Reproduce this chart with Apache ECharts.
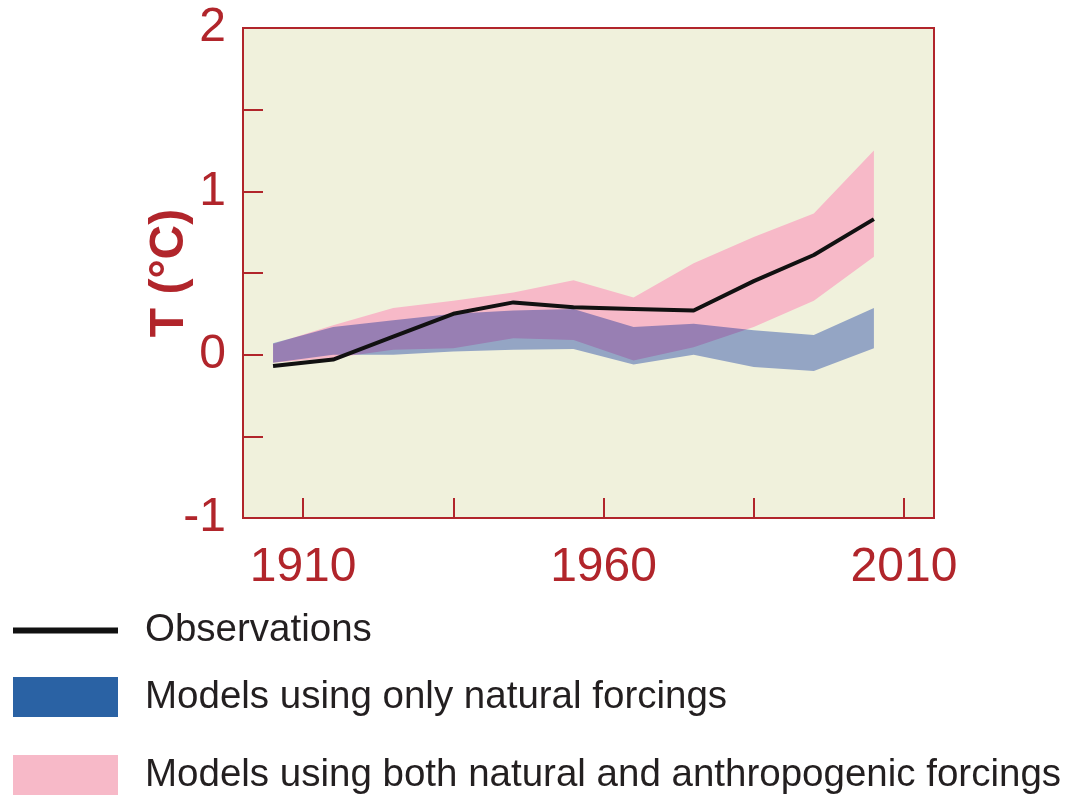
<!DOCTYPE html>
<html>
<head>
<meta charset="utf-8">
<script src="https://cdn.jsdelivr.net/npm/echarts@6/dist/echarts.min.js"></script>
<style>
html,body{margin:0;padding:0;background:#ffffff;}
#chart{width:1072px;height:798px;}
</style>
</head>
<body>
<div id="chart"></div>
<script>
// Decade centres (years)
const years = [1905, 1915, 1925, 1935, 1945, 1955, 1965, 1975, 1985, 1995, 2005];
// Observed temperature anomaly (°C)
const observations = [-0.07, -0.03, 0.11, 0.25, 0.32, 0.29, 0.28, 0.27, 0.45, 0.61, 0.83];
// Models using only natural forcings: band lower / upper
const naturalLow  = [-0.05, 0.0, 0.0, 0.02, 0.03, 0.035, -0.06, 0.0, -0.075, -0.10, 0.04];
const naturalHigh = [0.07, 0.17, 0.21, 0.25, 0.27, 0.28, 0.17, 0.19, 0.15, 0.12, 0.285];
// Models using both natural and anthropogenic forcings: band lower / upper
const bothLow  = [-0.05, -0.02, 0.03, 0.04, 0.10, 0.09, -0.035, 0.045, 0.17, 0.33, 0.60];
const bothHigh = [0.065, 0.18, 0.285, 0.33, 0.38, 0.455, 0.35, 0.56, 0.72, 0.865, 1.25];
// Tick values
const xTickValues = [1910, 1935, 1960, 1985, 2010];
const xLabelValues = [1910, 1960, 2010];
const yLabelValues = [-1, 0, 1, 2];

const RED = '#B1252B';
const FONT = '"Liberation Sans", Arial, Helvetica, sans-serif';
const NAME_OBS = 'Observations';
const NAME_NAT = 'Models using only natural forcings';
const NAME_BOTH = 'Models using both natural and anthropogenic forcings';

const chart = echarts.init(document.getElementById('chart'), null, {renderer: 'canvas', devicePixelRatio: 1});

function pairs(vals) { return years.map((y, i) => [y, vals[i]]); }
function bandData(lo, hi) { return years.map((y, i) => [y, lo[i], hi[i]]); }

// Draw a whole band (upper edge forward, lower edge back) as one polygon
function bandRenderer(fillColor, blend) {
  return function (params, api) {
    if (params.dataIndexInside !== 0) return null;
    const n = params.dataInsideLength;
    const upper = [], lower = [];
    for (let i = 0; i < n; i++) {
      const x = api.value(0, i);
      upper.push(api.coord([x, api.value(2, i)]));
      lower.push(api.coord([x, api.value(1, i)]));
    }
    const style = {fill: fillColor, stroke: null};
    if (blend) style.blend = blend;
    return {
      type: 'polygon',
      shape: {points: upper.concat(lower.reverse())},
      style: style,
      clipPath: {
        type: 'rect',
        shape: {x: params.coordSys.x, y: params.coordSys.y, width: params.coordSys.width, height: params.coordSys.height}
      }
    };
  };
}

const legendText = {fontSize: 38.5, color: '#231F20', fontFamily: FONT, padding: [4, 0, 0, 22]};
const legendText2 = {fontSize: 38.5, color: '#231F20', fontFamily: FONT, padding: [6, 0, 0, 22]};

const option = {
  backgroundColor: '#ffffff',
  animation: false,
  grid: {
    left: 243, top: 28, right: 138, bottom: 280,
    show: true, backgroundColor: '#F0F1DC', borderColor: RED, borderWidth: 2
  },
  xAxis: {
    type: 'value', min: 1900, max: 2015,
    axisLine: {onZero: false, lineStyle: {color: RED, width: 2}},
    axisTick: {inside: true, length: 20, lineStyle: {color: RED, width: 2}, customValues: xTickValues},
    axisLabel: {customValues: xLabelValues, color: RED, fontSize: 48, fontFamily: FONT, margin: 26,
      formatter: v => String(v)},
    splitLine: {show: false}
  },
  yAxis: {
    type: 'value', min: -1, max: 2, interval: 0.5,
    name: 'T (°C)', nameLocation: 'middle', nameRotate: 90, nameGap: 49, nameMoveOverlap: false,
    nameTextStyle: {color: RED, fontSize: 48, fontWeight: 'bold', fontFamily: FONT},
    axisLine: {onZero: false, lineStyle: {color: RED, width: 2}},
    axisTick: {inside: true, length: 20, lineStyle: {color: RED, width: 2}},
    axisLabel: {
      color: RED, fontSize: 48, fontFamily: FONT, margin: 17,
      formatter: v => (yLabelValues.indexOf(v) >= 0 ? String(v) : '')
    },
    splitLine: {show: false}
  },
  legend: [
    {
      data: [{name: NAME_OBS, icon: 'rect', itemStyle: {color: '#111111', borderWidth: 0}}],
      left: 13, top: 611, itemWidth: 105, itemHeight: 6, selectedMode: false,
      orient: 'vertical', padding: 0, textStyle: legendText
    },
    {
      data: [{name: NAME_NAT, icon: 'rect', itemStyle: {color: '#2A62A4', borderWidth: 0}}],
      left: 13, top: 677, itemWidth: 105, itemHeight: 40, selectedMode: false,
      orient: 'vertical', padding: 0, textStyle: legendText2
    },
    {
      data: [{name: NAME_BOTH, icon: 'rect', itemStyle: {color: '#F7B9C8', borderWidth: 0}}],
      left: 13, top: 755, itemWidth: 105, itemHeight: 40, selectedMode: false,
      orient: 'vertical', padding: 0, textStyle: legendText2
    }
  ],
  series: [
    {
      name: NAME_BOTH, type: 'custom', silent: true,
      data: bandData(bothLow, bothHigh),
      encode: {x: 0, y: [1, 2]},
      itemStyle: {color: '#F7B9C8'},
      renderItem: bandRenderer('#F7B9C8', null),
      z: 2
    },
    {
      name: NAME_NAT, type: 'custom', silent: true,
      data: bandData(naturalLow, naturalHigh),
      encode: {x: 0, y: [1, 2]},
      itemStyle: {color: '#2A62A4'},
      renderItem: bandRenderer('#9DAFE4', 'multiply'),
      blendMode: 'multiply',
      z: 3
    },
    {
      name: NAME_OBS, type: 'line', z: 4,
      data: pairs(observations), symbol: 'none', silent: true,
      itemStyle: {color: '#111111'},
      lineStyle: {color: '#111111', width: 4}
    }
  ]
};
chart.setOption(option);
</script>
</body>
</html>
